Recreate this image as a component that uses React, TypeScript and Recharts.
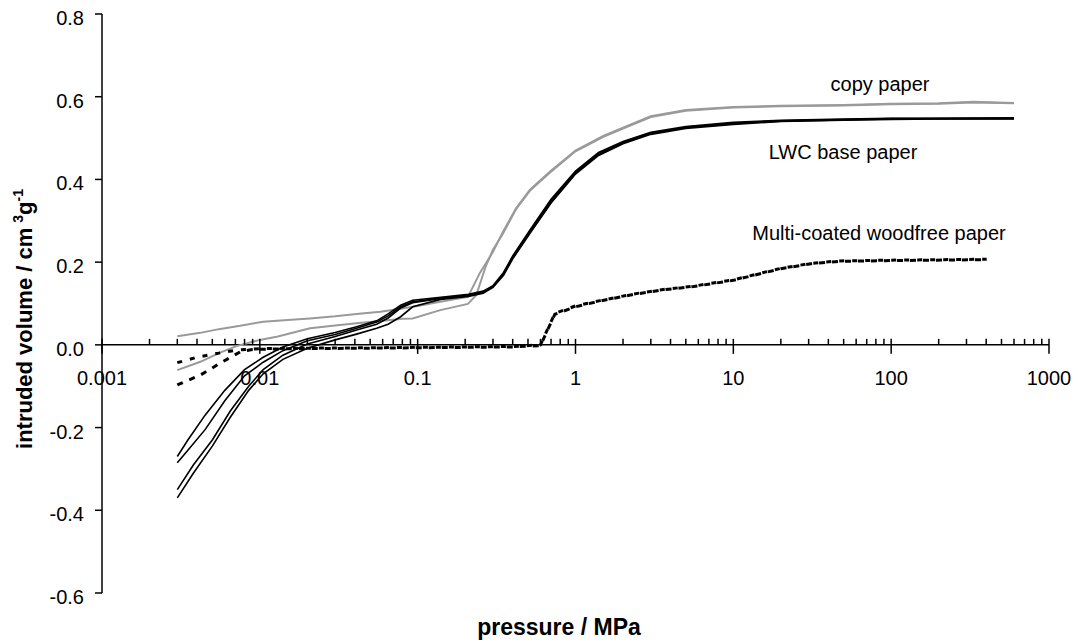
import React from 'react';
import { LineChart, Line, XAxis, YAxis, ReferenceLine, ReferenceDot } from 'recharts';

const FONT = '"Liberation Sans", Arial, Helvetica, sans-serif';

// ---- data (pressure in MPa, intruded volume in cm3/g) ----
const copyPressureA = [0.003, 0.0042, 0.0055, 0.0075, 0.0105, 0.015, 0.0208, 0.03, 0.041, 0.058, 0.08, 0.1, 0.139, 0.208, 0.248, 0.3, 0.348, 0.42, 0.515, 0.69, 1, 1.5, 2, 3, 5, 10, 20, 50, 100, 200, 330, 600];
const copyVolumeA = [0.021, 0.029, 0.038, 0.046, 0.056, 0.06, 0.064, 0.069, 0.0746, 0.08, 0.088, 0.094, 0.104, 0.116, 0.174, 0.225, 0.274, 0.33, 0.375, 0.419, 0.47, 0.505, 0.525, 0.553, 0.568, 0.575, 0.578, 0.58, 0.583, 0.584, 0.588, 0.585];

const copyPressureB = [0.003, 0.0042, 0.0055, 0.0071, 0.01, 0.013, 0.0208, 0.03, 0.041, 0.06, 0.08, 0.093, 0.139, 0.208, 0.235, 0.27, 0.3, 0.348, 0.42, 0.515, 0.69, 1, 1.5, 2, 3, 5, 10, 20, 50, 100, 200, 330, 600];
const copyVolumeB = [-0.061, -0.041, -0.02, -0.003, 0.012, 0.02, 0.04, 0.047, 0.052, 0.058, 0.063, 0.064, 0.084, 0.099, 0.12, 0.19, 0.23, 0.27, 0.328, 0.373, 0.417, 0.468, 0.503, 0.523, 0.551, 0.566, 0.574, 0.577, 0.579, 0.582, 0.583, 0.586, 0.584];

const lwcPressureAB = [0.003, 0.0035, 0.0045, 0.006, 0.008, 0.0105, 0.014, 0.02, 0.03, 0.041, 0.055, 0.065, 0.078, 0.093, 0.14, 0.21, 0.26, 0.3, 0.35, 0.4, 0.52, 0.7, 1, 1.4, 2, 3, 5, 10, 20, 50, 100, 200, 600];
const lwcVolumeA = [-0.27, -0.23, -0.17, -0.11, -0.06, -0.03, -0.005, 0.015, 0.03, 0.044, 0.058, 0.075, 0.096, 0.108, 0.115, 0.122, 0.13, 0.143, 0.175, 0.215, 0.28, 0.352, 0.42, 0.465, 0.492, 0.514, 0.528, 0.538, 0.543, 0.546, 0.548, 0.548, 0.549];
const lwcVolumeB = [-0.285, -0.255, -0.205, -0.135, -0.075, -0.042, -0.014, 0.01, 0.025, 0.04, 0.055, 0.07, 0.092, 0.104, 0.113, 0.12, 0.128, 0.14, 0.17, 0.21, 0.274, 0.345, 0.415, 0.46, 0.488, 0.511, 0.525, 0.535, 0.541, 0.544, 0.546, 0.547, 0.547];

const lwcPressureCD = [0.003, 0.0038, 0.005, 0.0065, 0.0085, 0.0105, 0.014, 0.02, 0.03, 0.041, 0.055, 0.065, 0.078, 0.093, 0.14, 0.21, 0.26, 0.3, 0.35, 0.4, 0.52, 0.7, 1, 1.4, 2, 3, 5, 10, 20, 50, 100, 200, 600];
const lwcVolumeC = [-0.35, -0.29, -0.23, -0.16, -0.1, -0.06, -0.025, 0.002, 0.02, 0.036, 0.05, 0.065, 0.089, 0.102, 0.112, 0.119, 0.127, 0.142, 0.172, 0.212, 0.277, 0.349, 0.418, 0.463, 0.49, 0.512, 0.526, 0.536, 0.542, 0.545, 0.547, 0.547, 0.548];
const lwcVolumeD = [-0.37, -0.31, -0.245, -0.175, -0.11, -0.07, -0.035, -0.008, 0.012, 0.026, 0.04, 0.05, 0.068, 0.092, 0.11, 0.117, 0.125, 0.139, 0.168, 0.208, 0.272, 0.343, 0.413, 0.458, 0.486, 0.509, 0.523, 0.533, 0.54, 0.543, 0.545, 0.546, 0.546];

const wfPressureA = [0.003, 0.004, 0.0055, 0.007, 0.01, 0.02, 0.05, 0.1, 0.2, 0.4, 0.6, 0.66, 0.74, 1, 1.43, 2.33, 3.6, 5.6, 10, 13.4, 20, 31, 47, 113, 403];
const wfVolumeA = [-0.043, -0.03, -0.02, -0.013, -0.009, -0.008, -0.007, -0.006, -0.005, -0.004, 0.0, 0.035, 0.076, 0.094, 0.107, 0.123, 0.134, 0.142, 0.157, 0.169, 0.185, 0.197, 0.203, 0.205, 0.207];
const wfPressureB = [0.003, 0.0042, 0.0058, 0.0075, 0.009, 0.012, 0.02, 0.05, 0.1, 0.2, 0.4, 0.6, 0.66, 0.74, 1, 1.43, 2.33, 3.6, 5.6, 10, 13.4, 20, 31, 47, 113, 403];
const wfVolumeB = [-0.097, -0.073, -0.041, -0.017, -0.011, -0.01, -0.009, -0.008, -0.007, -0.006, -0.005, -0.002, 0.033, 0.074, 0.092, 0.106, 0.122, 0.133, 0.141, 0.156, 0.168, 0.184, 0.196, 0.202, 0.204, 0.206];

// ---- axes ----
const majorTicks = [0.001, 0.01, 0.1, 1, 10, 100, 1000];
const majorLabels = ['0.001', '0.01', '0.1', '1', '10', '100', '1000'];
const minorMultipliers = [2, 3, 4, 5, 6, 7, 8, 9];
const minorTicks = majorTicks.slice(0, -1).flatMap((d) => minorMultipliers.map((m) => +(d * m).toPrecision(3)));
const yTicks = [-0.6, -0.4, -0.2, 0, 0.2, 0.4, 0.6, 0.8];

const toPoints = (ps: number[], vs: number[]) => ps.map((p, i) => ({ p, v: vs[i] }));

const copyA = toPoints(copyPressureA, copyVolumeA);
const copyB = toPoints(copyPressureB, copyVolumeB);
const lwcA = toPoints(lwcPressureAB, lwcVolumeA);
const lwcB = toPoints(lwcPressureAB, lwcVolumeB);
const lwcC = toPoints(lwcPressureCD, lwcVolumeC);
const lwcD = toPoints(lwcPressureCD, lwcVolumeD);
const wfA = toPoints(wfPressureA, wfVolumeA);
const wfB = toPoints(wfPressureB, wfVolumeB);

const W = 1071;
const H = 634;
const GRAY = '#9a9a9a';

const majorShape = (label: string) => (props: any) => {
  const { cx, cy } = props;
  return (
    <g>
      <line x1={cx} x2={cx} y1={cy - 6} y2={cy + 9} stroke="#000" strokeWidth={1.5} />
      <text x={cx} y={cy + 40} textAnchor="middle" fontSize={20} fontFamily={FONT} fill="#000">
        {label}
      </text>
    </g>
  );
};

const minorShape = (props: any) => {
  const { cx, cy } = props;
  return <line x1={cx} x2={cx} y1={cy - 6} y2={cy} stroke="#000" strokeWidth={1.5} />;
};

const YTick = (props: any) => {
  const { x, y, payload } = props;
  return (
    <text x={x} y={y + 11} textAnchor="end" fontSize={20} fontFamily={FONT} fill="#000">
      {Number(payload.value).toFixed(1)}
    </text>
  );
};

export default function App() {
  return (
    <div style={{ position: 'relative', width: W, height: H }}>
      <LineChart width={W} height={H} margin={{ top: 6, right: 30, bottom: 49, left: 0 }} style={{ overflow: 'visible' }}>
        <XAxis dataKey="p" type="number" scale="log" domain={[0.001, 1000]} allowDataOverflow hide />
        <YAxis
          type="number"
          domain={[-0.6, 0.8]}
          ticks={yTicks}
          width={94}
          interval={0}
          tickSize={7}
          tickMargin={11}
          axisLine={{ stroke: '#000', strokeWidth: 1.5 }}
          tickLine={{ stroke: '#000', strokeWidth: 1.5 }}
          tick={<YTick />}
        />
        <ReferenceLine y={0} stroke="#000" strokeWidth={1.5} />
        {minorTicks.map((t) => (
          <ReferenceDot key={'m' + t} x={t} y={0} ifOverflow="visible" shape={minorShape} />
        ))}
        {majorTicks.map((t, i) => (
          <ReferenceDot key={'M' + t} x={t} y={0} ifOverflow="visible" shape={majorShape(majorLabels[i])} />
        ))}
        <Line data={copyA} dataKey="v" stroke={GRAY} strokeWidth={2} dot={false} isAnimationActive={false} type="linear" />
        <Line data={copyB} dataKey="v" stroke={GRAY} strokeWidth={2} dot={false} isAnimationActive={false} type="linear" />
        <Line data={wfA} dataKey="v" stroke="#000" strokeWidth={3} strokeDasharray="5 8" dot={false} isAnimationActive={false} type="linear" />
        <Line data={wfB} dataKey="v" stroke="#000" strokeWidth={3} strokeDasharray="6 7" dot={false} isAnimationActive={false} type="linear" />
        <Line data={lwcA} dataKey="v" stroke="#000" strokeWidth={1.6} dot={false} isAnimationActive={false} type="linear" />
        <Line data={lwcB} dataKey="v" stroke="#000" strokeWidth={1.6} dot={false} isAnimationActive={false} type="linear" />
        <Line data={lwcC} dataKey="v" stroke="#000" strokeWidth={1.6} dot={false} isAnimationActive={false} type="linear" />
        <Line data={lwcD} dataKey="v" stroke="#000" strokeWidth={1.6} dot={false} isAnimationActive={false} type="linear" />
      </LineChart>
      <svg width={W} height={H} style={{ position: 'absolute', left: 0, top: 0, pointerEvents: 'none', overflow: 'visible' }}>
        <g fontFamily={FONT} fill="#000">
          <text x={872} y={83} fontSize={20} textAnchor="middle">copy paper</text>
          <text x={835} y={151} fontSize={20} textAnchor="middle">LWC base paper</text>
          <text x={871} y={232} fontSize={20} textAnchor="middle">Multi-coated woodfree paper</text>
          <text x={551} y={627} fontSize={23} fontWeight="bold" textAnchor="middle">pressure / MPa</text>
          <text x={24} y={311} fontSize={22} fontWeight="bold" textAnchor="middle" transform="rotate(-90 24 311)">
            intruded volume / cm
            <tspan dx={5} dy={-9} fontSize={14}>3</tspan>
            <tspan dy={9}>g</tspan>
            <tspan dy={-9} fontSize={14}>-1</tspan>
          </text>
        </g>
      </svg>
    </div>
  );
}
